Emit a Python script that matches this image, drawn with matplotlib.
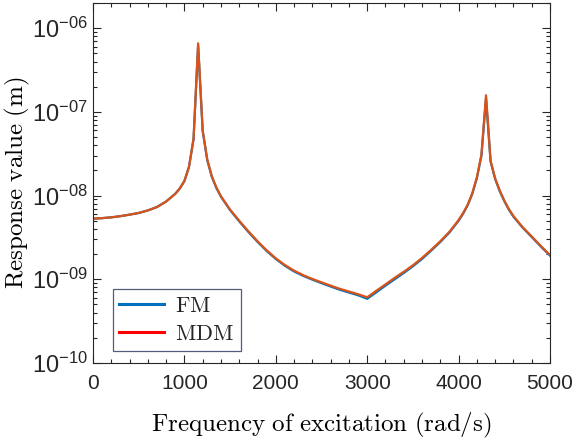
import numpy as np
import matplotlib
matplotlib.use('Agg')
import matplotlib.pyplot as plt
from matplotlib.lines import Line2D
from matplotlib.ticker import FixedLocator, FuncFormatter, LogLocator, MultipleLocator, NullFormatter

# frequency of excitation (rad/s) and response (m)
freq = [0, 100, 200, 300, 400, 500, 600, 700, 800, 900, 950, 1000, 1050, 1100, 1150, 1200,
        1250, 1300, 1350, 1400, 1500, 1600, 1700, 1800, 1900, 2000, 2100, 2200, 2300,
        2400, 2500, 2600, 2700, 2800, 2900, 3000, 3100, 3200, 3300, 3400, 3500, 3600,
        3700, 3800, 3900, 4000, 4050, 4100, 4150, 4200, 4250, 4300, 4350, 4400, 4450,
        4500, 4550, 4600, 4700, 4800, 4900, 5000]
mdm = [5.3e-9, 5.38e-9, 5.5e-9, 5.68e-9, 5.92e-9, 6.2e-9, 6.65e-9, 7.3e-9, 8.5e-9,
       1.05e-8, 1.22e-8, 1.5e-8, 2.2e-8, 4.8e-8, 6.6e-7, 6.0e-8,
       2.7e-8, 1.7e-8, 1.25e-8, 9.8e-9, 6.8e-9, 5.0e-9, 3.75e-9, 2.85e-9, 2.22e-9,
       1.78e-9, 1.48e-9, 1.27e-9, 1.12e-9, 1.01e-9, 9.2e-10, 8.4e-10, 7.7e-10, 7.15e-10,
       6.64e-10, 6.1e-10, 7.3e-10, 8.7e-10, 1.04e-9, 1.23e-9, 1.47e-9, 1.8e-9,
       2.25e-9, 2.85e-9, 3.7e-9, 5.1e-9, 6.2e-9, 7.8e-9, 1.07e-8, 1.65e-8, 3.1e-8,
       1.58e-7, 2.6e-8, 1.6e-8, 1.15e-8,
       8.7e-9, 6.9e-9, 5.7e-9, 4.2e-9, 3.25e-9, 2.5e-9, 1.95e-9]
fm = [5.3e-9, 5.38e-9, 5.5e-9, 5.68e-9, 5.92e-9, 6.2e-9, 6.65e-9, 7.3e-9, 8.5e-9,
      1.05e-8, 1.22e-8, 1.49e-8, 2.2e-8, 4.7e-8, 6.2e-7, 5.9e-8,
      2.65e-8, 1.68e-8, 1.23e-8, 9.7e-9, 6.7e-9, 4.92e-9, 3.68e-9, 2.8e-9, 2.18e-9,
      1.75e-9, 1.45e-9, 1.24e-9, 1.1e-9, 0.99e-9, 9.0e-10, 8.2e-10, 7.5e-10, 6.95e-10,
      6.45e-10, 5.85e-10, 7.0e-10, 8.4e-10, 1.0e-9, 1.19e-9, 1.43e-9, 1.75e-9,
      2.2e-9, 2.79e-9, 3.63e-9, 5.0e-9, 6.1e-9, 7.7e-9, 1.05e-8, 1.62e-8, 3.0e-8,
      1.45e-7, 2.55e-8, 1.58e-8, 1.13e-8,
      8.6e-9, 6.8e-9, 5.6e-9, 4.15e-9, 3.2e-9, 2.46e-9, 1.92e-9]

plt.rcParams['mathtext.fontset'] = 'custom'
plt.rcParams['mathtext.rm'] = 'Liberation Sans'
plt.rcParams['mathtext.it'] = 'Liberation Sans:italic'
plt.rcParams['font.family'] = 'Liberation Sans'

fig = plt.figure(figsize=(5.77, 4.43), dpi=100)
ax = fig.add_axes([0.1612, 0.1806, 0.7920, 0.8126])

ax.plot(freq, fm, color='#0072BD', lw=1.6)
ax.plot(freq, mdm, color='#D95319', lw=1.6)

ax.set_yscale('log')
ax.set_xlim(0, 5000)
ax.set_ylim(1e-10, 2e-6)

ax.xaxis.set_major_locator(MultipleLocator(1000))
ax.xaxis.set_minor_locator(MultipleLocator(200))
ax.yaxis.set_major_locator(FixedLocator([1e-10, 1e-9, 1e-8, 1e-7, 1e-6]))
ax.yaxis.set_minor_locator(LogLocator(base=10, subs=np.arange(2, 10)))
ax.yaxis.set_minor_formatter(NullFormatter())
ax.yaxis.set_major_formatter(FuncFormatter(
    lambda v, p: r'$\mathregular{10^{-%02d}}$' % round(-np.log10(v))))

ax.tick_params(which='both', direction='in', top=True, right=True,
               colors='#262626', labelsize=15, width=0.8)
ax.tick_params(which='major', length=6)
ax.tick_params(which='minor', length=3)
ax.tick_params(axis='x', pad=8)
ax.tick_params(axis='y', labelsize=17, pad=4)
for s in ax.spines.values():
    s.set_color('#262626')
    s.set_linewidth(0.8)

xl = ax.set_xlabel(r'$\mathrm{Frequency\ of\ excitation\ (rad/s)}$', fontsize=18, labelpad=13)
yl = ax.set_ylabel(r'$\mathrm{Response\ value\ (m)}$', fontsize=18, labelpad=0)
xl.set_math_fontfamily('cm')
yl.set_math_fontfamily('cm')

handles = [Line2D([], [], color='#0072BD', lw=2.2),
           Line2D([], [], color='#FF0000', lw=2.2)]
leg = ax.legend(handles, [r'$\mathrm{FM}$', r'$\mathrm{MDM}$'], loc='lower left',
                bbox_to_anchor=(0.043, 0.032), fontsize=16, frameon=True, fancybox=False,
                handlelength=2.0, handletextpad=0.5, borderpad=0.3, labelspacing=0.3,
                borderaxespad=0)
leg.get_frame().set_edgecolor('#26365a')
leg.get_frame().set_linewidth(0.9)
for t in leg.get_texts():
    t.set_math_fontfamily('cm')
    t.set_color('#262626')

fig.savefig('out.png', dpi=100)
